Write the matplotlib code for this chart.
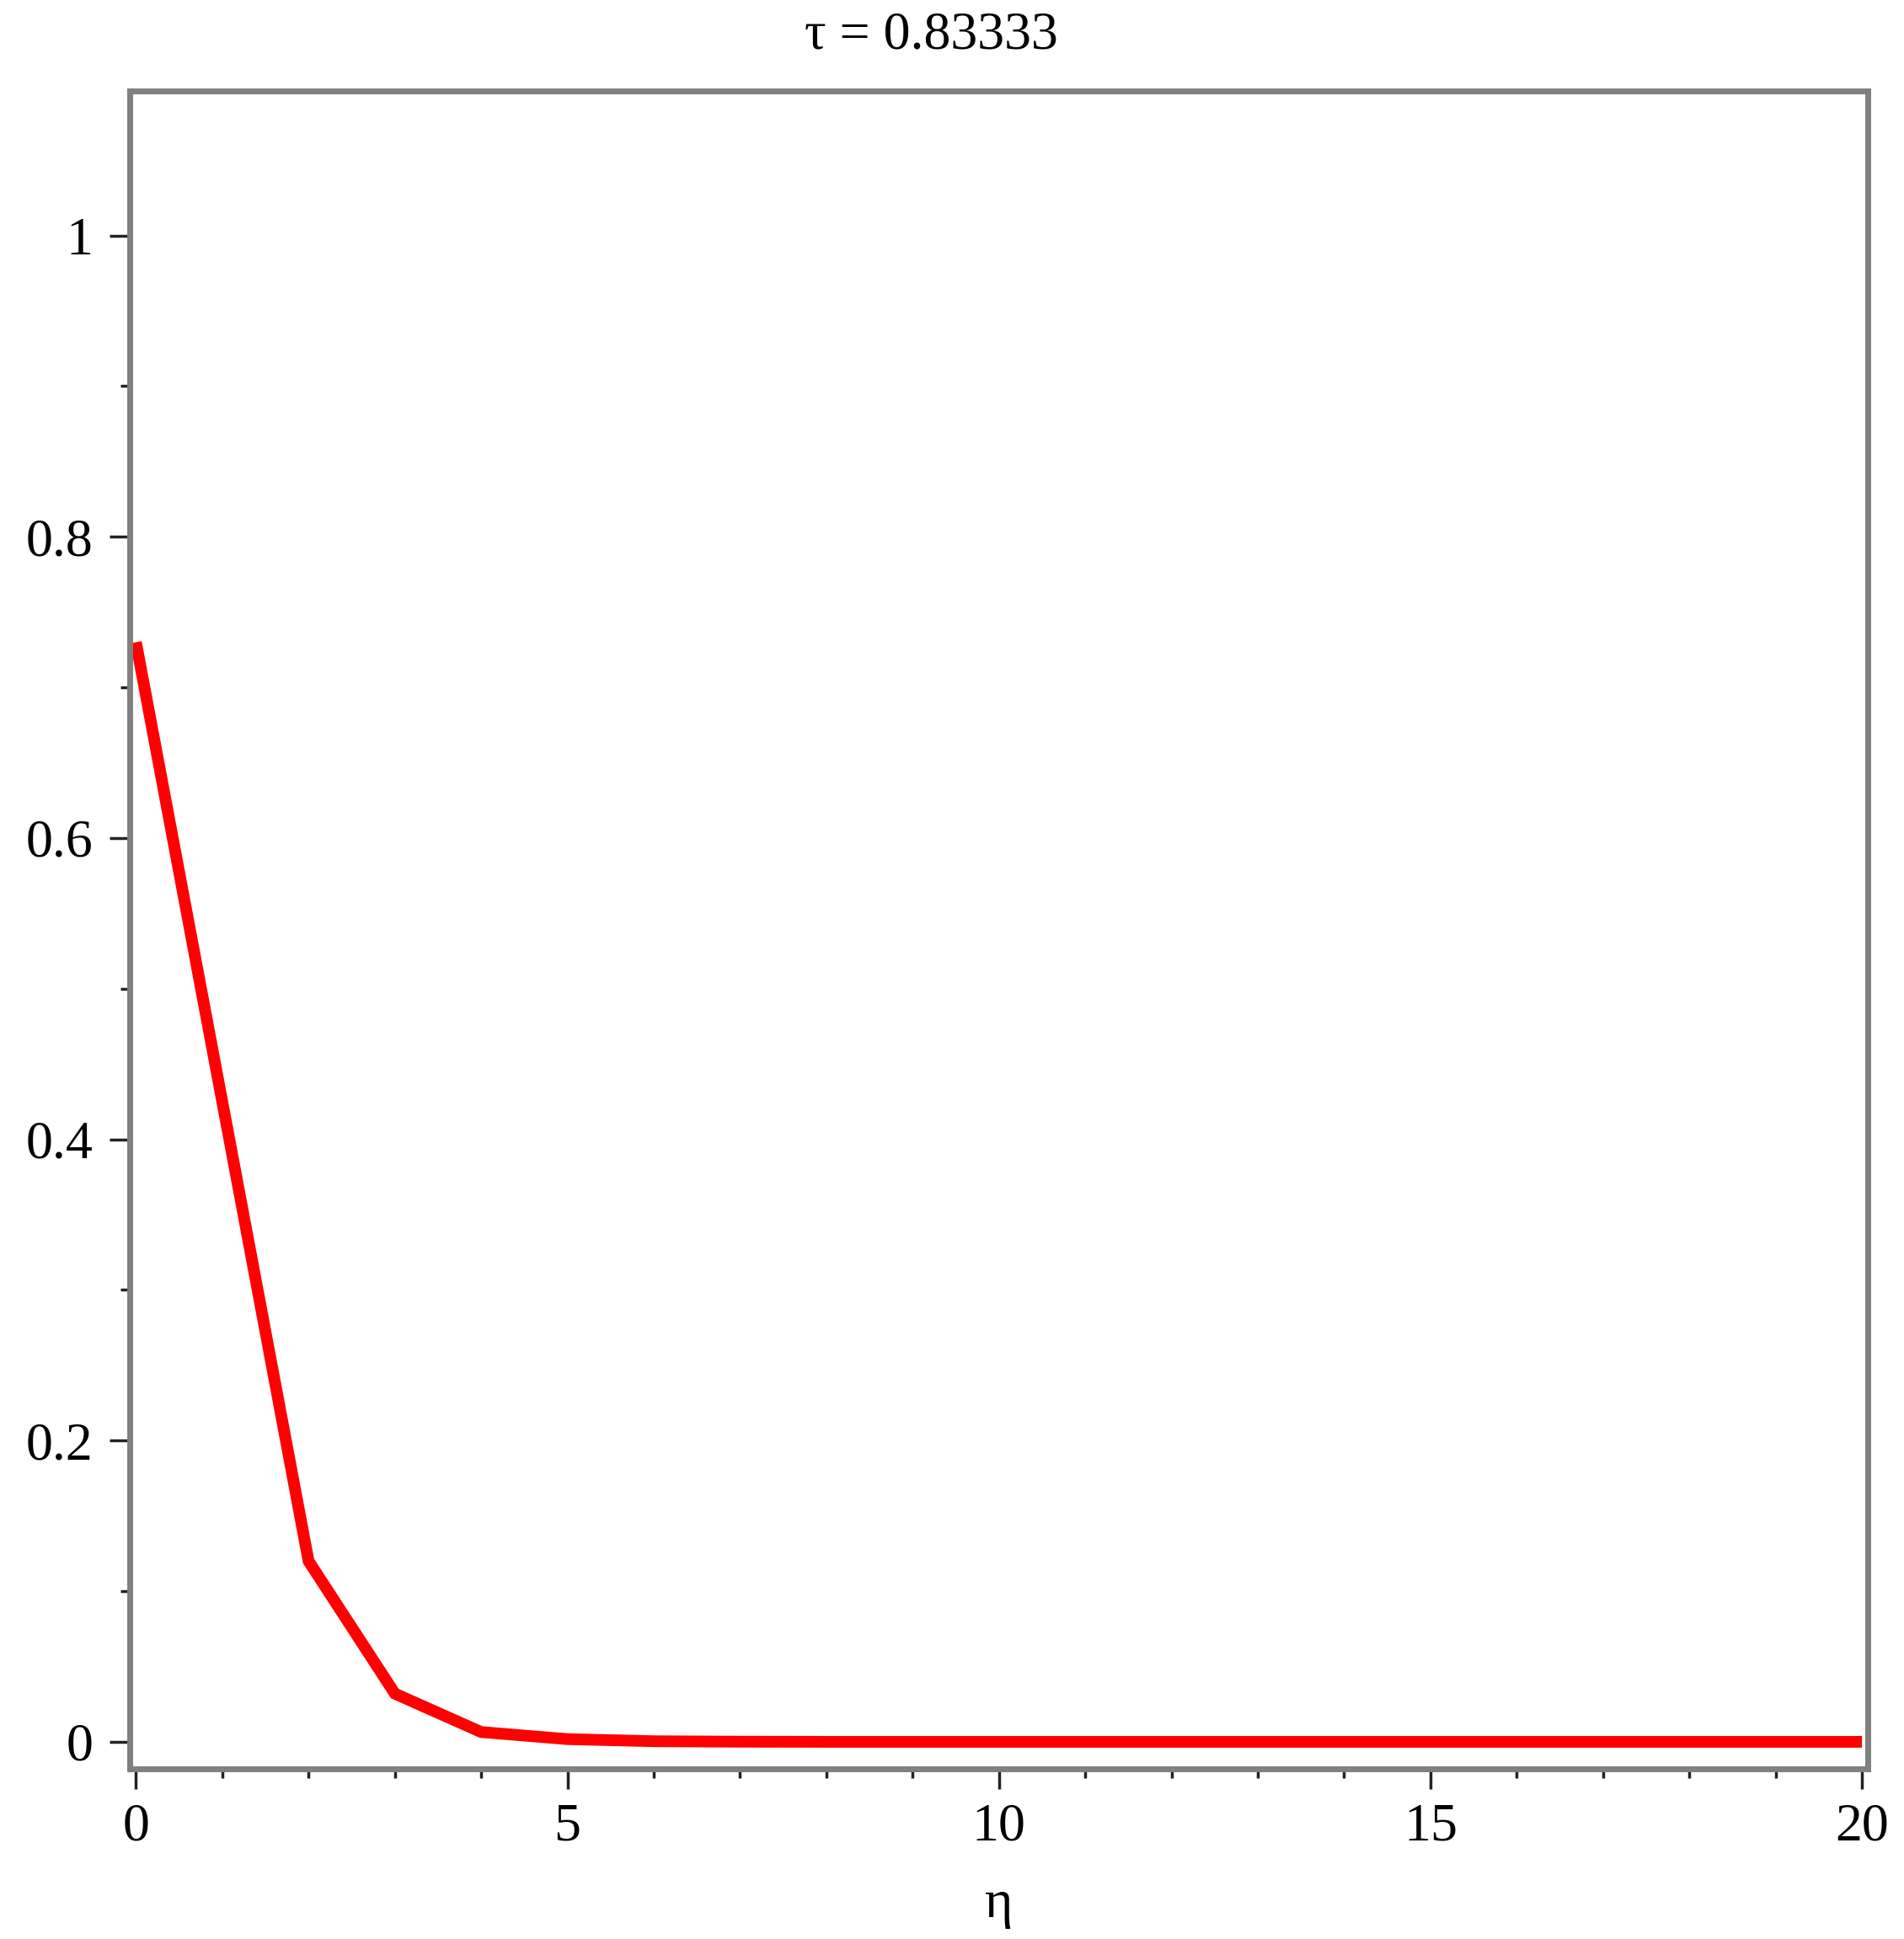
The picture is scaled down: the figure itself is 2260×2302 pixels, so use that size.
import matplotlib
matplotlib.use("Agg")
import matplotlib.pyplot as plt
from matplotlib.ticker import MultipleLocator, FixedLocator, FixedFormatter

eta = [0, 1, 2, 3, 4, 5, 6, 7, 8, 9, 10, 11, 12, 13, 14, 15, 16, 17, 18, 19, 20]
theta = [0.730, 0.425, 0.120, 0.032, 0.0065, 0.0018, 0.0004, 0.0001, 0.0, 0.0,
         0.0, 0.0, 0.0, 0.0, 0.0, 0.0, 0.0, 0.0, 0.0, 0.0, 0.0]
y_ticks = [0, 0.2, 0.4, 0.6, 0.8, 1]
y_labels = ["0", "0.2", "0.4", "0.6", "0.8", "1"]
x_ticks = [0, 5, 10, 15, 20]
x_labels = ["0", "5", "10", "15", "20"]
title = "τ = 0.83333"
xlabel = "η"

plt.rcParams['font.family'] = ['Liberation Serif', 'DejaVu Serif']

fig = plt.figure(figsize=(22.6, 23.02), dpi=100)
ax = fig.add_axes([0.0681, 0.0877, 0.981 - 0.0681, 0.9531 - 0.0877])

ax.plot(eta, theta, color="#ff0000", linewidth=10, solid_capstyle="butt", solid_joinstyle="miter")

ax.set_xlim(-0.073, 20.068)
ax.set_ylim(-0.018, 1.096)

ax.xaxis.set_major_locator(FixedLocator(x_ticks))
ax.xaxis.set_major_formatter(FixedFormatter(x_labels))
ax.xaxis.set_minor_locator(MultipleLocator(1))
ax.yaxis.set_major_locator(FixedLocator(y_ticks))
ax.yaxis.set_major_formatter(FixedFormatter(y_labels))
ax.yaxis.set_minor_locator(MultipleLocator(0.1))

for s in ax.spines.values():
    s.set_color("#808080")
    s.set_linewidth(5)

ax.tick_params(which="major", direction="out", length=17, width=2.5, color="#222222",
               labelsize=46, pad=14)
ax.tick_params(which="minor", direction="out", length=8, width=2.5, color="#222222")
ax.tick_params(axis="x", which="major", pad=12)

fig.text(0.489, 0.9815, title, fontsize=46, ha="center", va="center")
ax.set_xlabel(xlabel, fontsize=46, labelpad=24)

fig.savefig("out.png", dpi=100, facecolor="white")
